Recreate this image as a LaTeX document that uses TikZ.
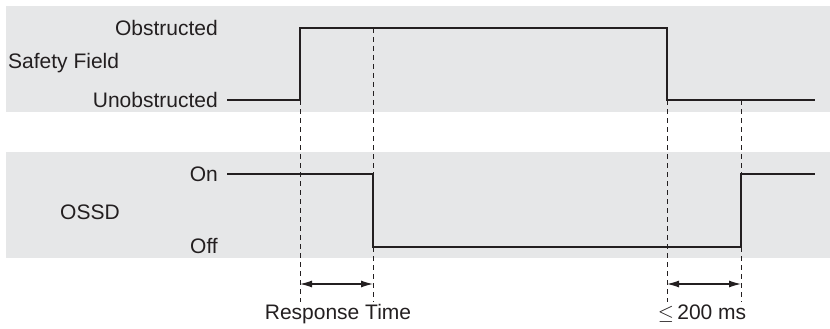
\documentclass[tikz,border=0pt]{standalone}
\usepackage{fontspec}
\setmainfont{Liberation Sans}
\usetikzlibrary{arrows.meta}
\definecolor{bandgray}{HTML}{E6E7E8}
\definecolor{ink}{HTML}{231F20}
\begin{document}
\begin{tikzpicture}[x=1pt,y=-1pt,
  lbl/.style={inner sep=0pt, font=\fontsize{21}{25}\selectfont, text=ink},
  sig/.style={draw=ink, line width=2.6pt, line join=miter},
  guide/.style={draw=ink, line width=0.9pt, dash pattern=on 5pt off 4pt},
  dim/.style={draw=ink, line width=1.1pt, {Latex[length=12pt,width=7pt]}-{Latex[length=12pt,width=7pt]}}]
\useasboundingbox (0,0) rectangle (830,329);
% bands
\fill[bandgray] (6,6) rectangle (830,112);
\fill[bandgray] (6,152) rectangle (830,258);
% labels
\node[lbl, anchor=east] (obs) at (218,28) {Obstructed};
\node[lbl, anchor=west] (sf) at (8,63) {Safety Field};
\node[lbl, anchor=east] (unobs) at (218,100) {Unobstructed};
\node[lbl, anchor=east] (on) at (218,174) {On};
\node[lbl, anchor=west] (ossd) at (60,212) {OSSD};
\node[lbl, anchor=east] (off) at (218,246) {Off};
\node[lbl] (rt) at (338,314) {Response Time};
\node[lbl] (ms) at (702,314) {$\leq$\,200 ms};
% timing coordinates
\coordinate (a0) at (227,100);
\coordinate (a1) at (300,100);
\coordinate (a2) at (300,28);
\coordinate (a3) at (667,28);
\coordinate (a4) at (667,100);
\coordinate (a5) at (815,100);
\coordinate (b0) at (227,174);
\coordinate (b1) at (373,174);
\coordinate (b2) at (373,247);
\coordinate (b3) at (741,247);
\coordinate (b4) at (741,174);
\coordinate (b5) at (815,174);
% guides
\coordinate (g1) at (300,302);
\coordinate (g2t) at (373,28);
\coordinate (g2) at (373,302);
\coordinate (g3) at (667,302);
\coordinate (g4t) at (741,100);
\coordinate (g4) at (741,302);
\draw[guide] (a1) -- (g1);
\draw[guide] (g2t) -- (b1);
\draw[guide] (b2) -- (g2);
\draw[guide] (a4) -- (g3);
\draw[guide] (g4t) -- (b4);
\draw[guide] (b3) -- (g4);
% signals
\draw[sig] (a0) -- (a1) -- (a2) -- (a3) -- (a4) -- (a5);
\draw[sig] (b0) -- (b1) -- (b2) -- (b3) -- (b4) -- (b5);
% dimension arrows
\coordinate (d1) at (300,284);
\coordinate (d2) at (373,284);
\coordinate (d3) at (667,284);
\coordinate (d4) at (741,284);
\draw[dim] (d1) -- (d2);
\draw[dim] (d3) -- (d4);
\end{tikzpicture}
\end{document}
